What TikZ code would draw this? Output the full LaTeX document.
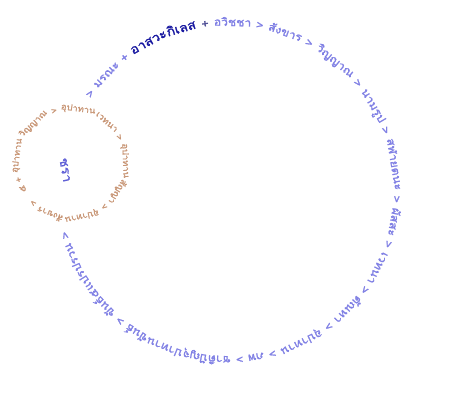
\documentclass[tikz,border=0pt]{standalone}
\usepackage{fontspec}
\setmainfont{Loma}[Script=Thai]
\newfontfamily\ringfont{Loma}[Script=Thai,FakeBold=1.6,FakeStretch=1.1]
\usetikzlibrary{decorations.text}
\definecolor{ringblue}{RGB}{128,128,228}
\definecolor{darkblue}{RGB}{24,24,160}
\definecolor{plusblue}{RGB}{80,80,150}
\definecolor{ringbrown}{RGB}{200,150,118}
\definecolor{midblue}{RGB}{96,96,214}
\tikzset{ringtext/.style={decorate,decoration={text along path,text align={fit to path stretching spaces},#1}}}

\begin{document}
\begin{tikzpicture}[x=1pt,y=1pt]
\useasboundingbox (0,0) rectangle (450,407);
% centres of the two rings
\coordinate (big) at (228,216);
\coordinate (small) at (71,244);

% big ring, read clockwise
\path[ringtext={text={|\ringfont\fontsize{11}{13}\selectfont\color{ringblue}|> {มรณะ} + |\ringfont\fontsize{12.5}{15}\selectfont\color{darkblue}|{อาสวะ}{กิเลส} |\ringfont\fontsize{11}{13}\selectfont\color{plusblue}|+ |\ringfont\fontsize{11}{13}\selectfont\color{ringblue}|{อวิชชา} > {สังขาร} > {วิญญาณ} > {นามรูป} > {สฬายตนะ} > {ผัสสะ} > {เวทนา} > {ตัณหา} > {อุปาทาน} > {ภพ} > {ชาติ}{ปัญจุ}{ปาทาน}{ขันธ์} > {ขันธ์}{๕}{แปร}{ปรวน} >}}]
  (big) ++(146:165) arc[start angle=146,end angle=-166,radius=165];

% small ring
\path[ringtext={text={|\ringfont\fontsize{8.5}{11}\selectfont\color{ringbrown}|{๕} + {อุปาทาน}{วิญญาณ} > {อุปาทาน}{เวทนา} > {อุปาทาน}{สัญญา} > {อุปาทาน}{สังขาร} > {อุปาทาน}{รูป} >}}]
  (small) ++(212:52) arc[start angle=212,end angle=-146,radius=52];

\node[text=midblue,font=\ringfont\fontsize{12.5}{14}\selectfont,rotate=-80] (jara) at (65,237) {ชรา};
\end{tikzpicture}
\end{document}
